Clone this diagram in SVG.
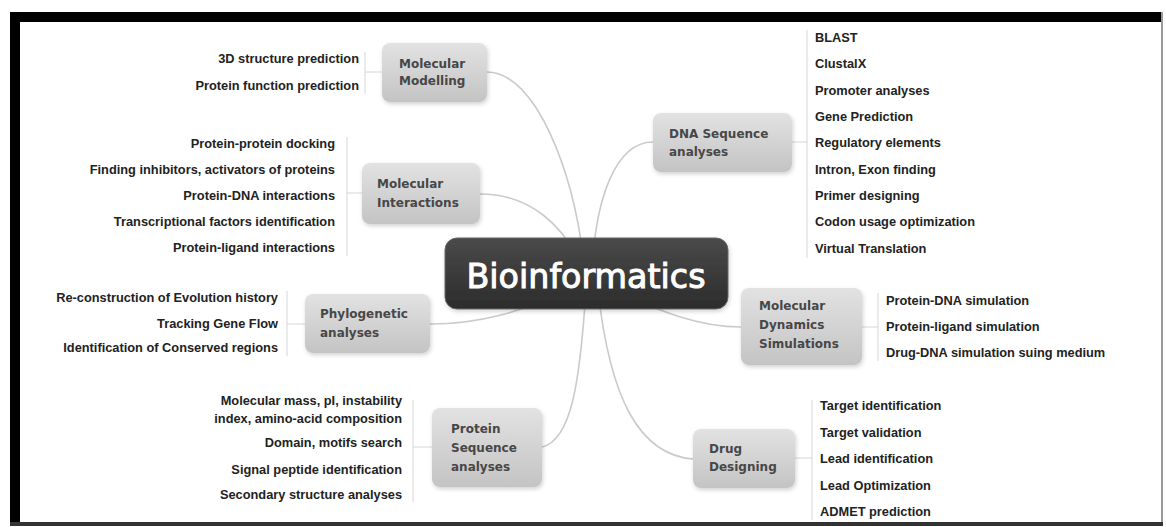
<svg xmlns="http://www.w3.org/2000/svg" width="1166" height="527" viewBox="0 0 1166 527">
<defs>
<linearGradient id="gBox" x1="0" y1="0" x2="0" y2="1">
<stop offset="0" stop-color="#e2e2e2"/>
<stop offset="1" stop-color="#c4c4c4"/>
</linearGradient>
<linearGradient id="gCenter" x1="0" y1="0" x2="0" y2="1">
<stop offset="0" stop-color="#4a4a4a"/>
<stop offset="1" stop-color="#2c2c2c"/>
</linearGradient>
<filter id="sh" x="-20%" y="-20%" width="140%" height="150%">
<feDropShadow dx="1" dy="2" stdDeviation="2" flood-color="#000" flood-opacity="0.18"/>
</filter>
</defs>
<style>
.box{fill:url(#gBox);filter:url(#sh)}
.nt{font-family:"DejaVu Sans",sans-serif;font-weight:bold;font-size:12px;fill:#474747}
.lf{font-family:"Liberation Sans",Arial,sans-serif;font-weight:bold;font-size:12.8px;fill:#222}
.r{text-anchor:end}
.con{fill:none;stroke:#cacaca;stroke-width:1.6}
.br{fill:none;stroke:#d6d6d6;stroke-width:1}
</style>
<rect x="0" y="0" width="1166" height="527" fill="#fff"/>
<g id="frame">
<rect x="10" y="12" width="1153" height="10" fill="#000"/>
<rect x="10" y="12" width="10" height="514" fill="#000"/>
<rect x="1161" y="12" width="2" height="512" fill="#999"/>
<rect x="10" y="522" width="1153" height="4" fill="#333"/>
</g>
<g id="connectors">
<path class="con" d="M487 72 C535 72 575 170 585 273"/>
<path class="con" d="M480 194 C530 194 565 225 585 273"/>
<path class="con" d="M653 142 C615 142 595 200 592 273"/>
<path class="con" d="M430 324 C480 324 520 312 570 290"/>
<path class="con" d="M741 327 C700 327 660 312 615 290"/>
<path class="con" d="M542 447 C572 440 580 380 586 290"/>
<path class="con" d="M693 459 C640 455 610 400 598 290"/>
<path class="br" d="M365 52 V94 M365 72 H382"/>
<path class="br" d="M347 137 V256 M347 193 H362"/>
<path class="br" d="M287 291 V356 M287 324 H305"/>
<path class="br" d="M413 400 V502 M413 447 H432"/>
<path class="br" d="M807 30 V258 M792 142 H807"/>
<path class="br" d="M878 293 V361 M862 327 H878"/>
<path class="br" d="M812 400 V520 M795 458 H812"/>
</g>
<g id="center">
<rect x="445" y="238" width="283" height="71" rx="12" fill="url(#gCenter)" stroke="#666" stroke-width="1" filter="url(#sh)"/>
<text x="586" y="288" text-anchor="middle" font-family="DejaVu Sans,sans-serif" font-size="34" fill="#fff" stroke="#fff" stroke-width="1" textLength="239" lengthAdjust="spacingAndGlyphs">Bioinformatics</text>
</g>
<g id="molecular-modelling">
<rect class="box" x="382" y="43" width="105" height="59" rx="8"/>
<text class="nt" x="399" y="68">Molecular</text>
<text class="nt" x="399" y="85">Modelling</text>
<text class="lf r" x="359" y="63">3D structure prediction</text>
<text class="lf r" x="359" y="90">Protein function prediction</text>
</g>
<g id="molecular-interactions">
<rect class="box" x="362" y="163" width="118" height="61" rx="8"/>
<text class="nt" x="377" y="188">Molecular</text>
<text class="nt" x="377" y="207">Interactions</text>
<text class="lf r" x="335" y="148">Protein-protein docking</text>
<text class="lf r" x="335" y="174">Finding inhibitors, activators of proteins</text>
<text class="lf r" x="335" y="200">Protein-DNA interactions</text>
<text class="lf r" x="335" y="226">Transcriptional factors identification</text>
<text class="lf r" x="335" y="252">Protein-ligand interactions</text>
</g>
<g id="phylogenetic">
<rect class="box" x="305" y="294" width="125" height="59" rx="8"/>
<text class="nt" x="320" y="318">Phylogenetic</text>
<text class="nt" x="320" y="337">analyses</text>
<text class="lf r" x="278" y="302">Re-construction of Evolution history</text>
<text class="lf r" x="278" y="328">Tracking Gene Flow</text>
<text class="lf r" x="278" y="352">Identification of Conserved regions</text>
</g>
<g id="protein-sequence">
<rect class="box" x="432" y="408" width="110" height="79" rx="8"/>
<text class="nt" x="451" y="433">Protein</text>
<text class="nt" x="451" y="452">Sequence</text>
<text class="nt" x="451" y="471">analyses</text>
<text class="lf r" x="402" y="405">Molecular mass, pI, instability</text>
<text class="lf r" x="402" y="423">index, amino-acid composition</text>
<text class="lf r" x="402" y="447">Domain, motifs search</text>
<text class="lf r" x="402" y="474">Signal peptide identification</text>
<text class="lf r" x="402" y="499">Secondary structure analyses</text>
</g>
<g id="dna-sequence">
<rect class="box" x="653" y="113" width="139" height="59" rx="8"/>
<text class="nt" x="669" y="138">DNA Sequence</text>
<text class="nt" x="669" y="156">analyses</text>
<text class="lf" x="815" y="42">BLAST</text>
<text class="lf" x="815" y="68">ClustalX</text>
<text class="lf" x="815" y="95">Promoter analyses</text>
<text class="lf" x="815" y="121">Gene Prediction</text>
<text class="lf" x="815" y="147">Regulatory elements</text>
<text class="lf" x="815" y="174">Intron, Exon finding</text>
<text class="lf" x="815" y="200">Primer designing</text>
<text class="lf" x="815" y="226">Codon usage optimization</text>
<text class="lf" x="815" y="253">Virtual Translation</text>
</g>
<g id="molecular-dynamics">
<rect class="box" x="741" y="288" width="121" height="77" rx="8"/>
<text class="nt" x="759" y="310">Molecular</text>
<text class="nt" x="759" y="329">Dynamics</text>
<text class="nt" x="759" y="348">Simulations</text>
<text class="lf" x="886" y="305">Protein-DNA simulation</text>
<text class="lf" x="886" y="331">Protein-ligand simulation</text>
<text class="lf" x="886" y="357">Drug-DNA simulation suing medium</text>
</g>
<g id="drug-designing">
<rect class="box" x="693" y="429" width="102" height="59" rx="8"/>
<text class="nt" x="709" y="453">Drug</text>
<text class="nt" x="709" y="471">Designing</text>
<text class="lf" x="820" y="410">Target identification</text>
<text class="lf" x="820" y="437">Target validation</text>
<text class="lf" x="820" y="463">Lead identification</text>
<text class="lf" x="820" y="490">Lead Optimization</text>
<text class="lf" x="820" y="516">ADMET prediction</text>
</g>
</svg>
